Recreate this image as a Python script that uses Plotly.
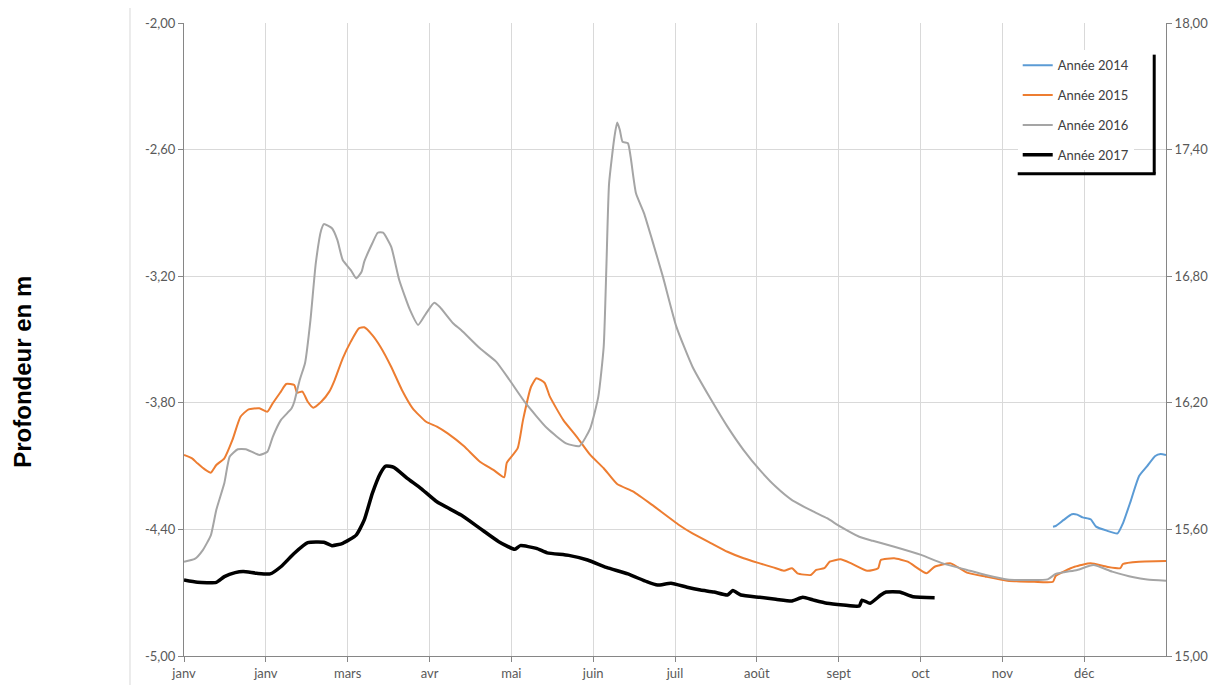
import plotly.graph_objects as go

# ---- data (x = day of year, y = depth in m) ----
month_labels = ["janv", "janv", "mars", "avr", "mai", "juin", "juil", "août", "sept", "oct", "nov", "déc"]
left_ticks = [-5.0, -4.4, -3.8, -3.2, -2.6, -2.0]
right_ticks = [15.0, 15.6, 16.2, 16.8, 17.4, 18.0]

days_2014 = [323, 324, 327, 330, 332, 334, 337, 339, 343, 347, 349, 352, 355, 358, 361, 363, 365]
vals_2014 = [-4.387, -4.384, -4.355, -4.328, -4.330, -4.343, -4.352, -4.387, -4.406, -4.419,
             -4.371, -4.261, -4.147, -4.100, -4.052, -4.043, -4.047]

days_2015 = [0, 3, 5, 8, 10, 12, 15, 18, 21, 24, 28, 31, 33, 36, 38, 41, 42, 44, 46, 48, 51, 54, 56,
             59, 62, 65, 67, 70, 73, 77, 81, 85, 90, 94, 98, 104, 110, 115, 119, 120, 124, 126, 129,
             131, 134, 136, 141, 146, 151, 156, 161, 167, 174, 184, 189, 196, 202, 208, 214, 219,
             223, 226, 228, 233, 235, 238, 240, 244, 248, 254, 258, 259, 264, 269, 276, 279, 285,
             291, 298, 306, 316, 323, 324, 331, 337, 343, 348, 349, 355, 365]
vals_2015 = [-4.047, -4.063, -4.087, -4.118, -4.131, -4.095, -4.063, -3.976, -3.866, -3.831, -3.826,
             -3.842, -3.802, -3.747, -3.711, -3.716, -3.752, -3.747, -3.795, -3.823, -3.795, -3.747,
             -3.692, -3.589, -3.510, -3.447, -3.442, -3.479, -3.534, -3.629, -3.739, -3.826, -3.890,
             -3.913, -3.945, -4.005, -4.079, -4.118, -4.153, -4.084, -4.016, -3.882, -3.724, -3.684,
             -3.705, -3.771, -3.882, -3.961, -4.047, -4.110, -4.185, -4.221, -4.284, -4.379, -4.419,
             -4.466, -4.506, -4.537, -4.561, -4.580, -4.596, -4.584, -4.608, -4.616, -4.592, -4.584,
             -4.553, -4.542, -4.561, -4.596, -4.584, -4.545, -4.537, -4.553, -4.608, -4.577, -4.561,
             -4.605, -4.624, -4.643, -4.648, -4.648, -4.621, -4.577, -4.561, -4.577, -4.584, -4.564,
             -4.553, -4.550]

days_2016 = [0, 4, 7, 10, 12, 15, 17, 20, 23, 28, 31, 33, 36, 40, 41, 43, 45, 47, 49, 51, 52, 55, 57,
             59, 62, 64, 66, 67, 70, 72, 74, 77, 80, 84, 87, 90, 93, 95, 100, 103, 110, 116, 121, 127,
             135, 142, 147, 151, 154, 156, 157, 158, 160, 161, 162, 163, 165, 166, 168, 171, 174, 178,
             183, 189, 196, 202, 208, 214, 220, 226, 234, 239, 244, 251, 256, 264, 274, 282, 291, 298,
             306, 321, 324, 332, 338, 345, 353, 358, 365]
vals_2016 = [-4.553, -4.540, -4.498, -4.427, -4.308, -4.180, -4.055, -4.020, -4.020, -4.047, -4.032,
             -3.961, -3.882, -3.826, -3.795, -3.692, -3.611, -3.408, -3.137, -2.981, -2.953, -2.973,
             -3.028, -3.123, -3.171, -3.210, -3.179, -3.131, -3.044, -2.994, -2.994, -3.060, -3.218,
             -3.360, -3.431, -3.376, -3.326, -3.345, -3.423, -3.455, -3.542, -3.605, -3.692, -3.802,
             -3.921, -3.992, -4.005, -3.921, -3.771, -3.534, -3.155, -2.760, -2.539, -2.472, -2.507,
             -2.563, -2.570, -2.634, -2.807, -2.902, -3.028, -3.202, -3.439, -3.629, -3.787, -3.913,
             -4.024, -4.118, -4.198, -4.261, -4.316, -4.347, -4.387, -4.435, -4.454, -4.482, -4.521,
             -4.561, -4.592, -4.616, -4.637, -4.637, -4.611, -4.592, -4.569, -4.600, -4.627, -4.637,
             -4.643]

days_2017 = [0, 5, 12, 15, 19, 22, 27, 32, 36, 41, 46, 52, 55, 59, 64, 67, 70, 73, 75, 78, 83, 88,
             94, 103, 110, 117, 123, 125, 131, 135, 143, 150, 157, 165, 172, 176, 181, 187, 192, 197,
             202, 204, 207, 214, 220, 226, 230, 234, 239, 245, 251, 252, 255, 259, 261, 266, 271, 279]
vals_2017 = [-4.640, -4.651, -4.651, -4.624, -4.605, -4.600, -4.608, -4.611, -4.577, -4.513, -4.463,
             -4.461, -4.477, -4.466, -4.427, -4.355, -4.229, -4.134, -4.100, -4.106, -4.158, -4.205,
             -4.269, -4.332, -4.395, -4.458, -4.494, -4.477, -4.490, -4.511, -4.523, -4.545, -4.580,
             -4.611, -4.648, -4.664, -4.655, -4.674, -4.687, -4.697, -4.711, -4.690, -4.711, -4.722,
             -4.731, -4.739, -4.722, -4.735, -4.750, -4.758, -4.763, -4.735, -4.750, -4.711, -4.697,
             -4.697, -4.719, -4.724]

series = [
    ("Année 2014", days_2014, vals_2014, "#5b9bd5", 2),
    ("Année 2015", days_2015, vals_2015, "#ed7d31", 2),
    ("Année 2016", days_2016, vals_2016, "#a5a5a5", 2),
    ("Année 2017", days_2017, vals_2017, "#000000", 3.5),
]

def fmt(v):
    return f"{v:.2f}".replace(".", ",")

fig = go.Figure()
for name, xs, ys, color, w in series:
    fig.add_trace(go.Scatter(x=xs, y=ys, mode="lines", name=name, legendgroup=name,
                             line=dict(color=color, width=w, shape="spline", smoothing=0.5)))
# dummy trace to activate the secondary axis
fig.add_trace(go.Scatter(x=[None], y=[None], yaxis="y2", showlegend=False, hoverinfo="skip"))

tick_font = dict(family="Lato, Carlito, sans-serif", size=13, color="#595959")
month_pos = [i * 365 / 12 for i in range(12)]

fig.update_layout(
    width=1214, height=677,
    margin=dict(l=176, r=56, t=15, b=29, autoexpand=False),
    plot_bgcolor="white", paper_bgcolor="white",
    showlegend=True,
    legend=dict(x=0.849, y=0.957, xanchor="left", yanchor="top",
                bgcolor="white", borderwidth=0, tracegroupgap=10,
                font=dict(family="Lato, Carlito, sans-serif", size=13, color="#404040")),
    xaxis=dict(range=[0, 365], tickvals=month_pos, ticktext=month_labels,
               showgrid=True, gridcolor="#d9d9d9", gridwidth=1,
               showline=True, linecolor="#868686", linewidth=1,
               ticks="outside", ticklen=5, tickcolor="#868686", automargin=False,
               tickfont=tick_font, zeroline=False),
    yaxis=dict(range=[-5.0, -2.0], tickvals=left_ticks, ticktext=[fmt(v) for v in left_ticks],
               showgrid=True, gridcolor="#d9d9d9", gridwidth=1,
               showline=True, linecolor="#868686", linewidth=1,
               ticks="outside", ticklen=5, tickcolor="#868686", automargin=False,
               tickfont=tick_font, zeroline=False),
    yaxis2=dict(range=[15.0, 18.0], overlaying="y", side="right",
                tickvals=right_ticks, ticktext=[fmt(v) for v in right_ticks],
                showgrid=False, showline=True, linecolor="#868686", linewidth=1,
                ticks="outside", ticklen=5, tickcolor="#868686", automargin=False,
                tickfont=tick_font, zeroline=False),
    annotations=[dict(text="<b>Profondeur en m</b>", xref="paper", yref="paper",
                      x=-0.164, y=0.449, xanchor="center", yanchor="middle",
                      textangle=-90, showarrow=False,
                      font=dict(family="Liberation Sans, Arial, sans-serif", size=24, color="#000000"))],
    shapes=[
        # chart area border
        dict(type="rect", xref="paper", yref="paper", x0=-0.055, x1=1.055, y0=-0.05, y1=1.027,
             line=dict(color="#d9d9d9", width=1), layer="below"),
        # legend shadow (right and bottom)
        dict(type="line", xref="paper", yref="paper", x0=0.988, x1=0.988, y0=0.762, y1=0.95,
             line=dict(color="#000000", width=3)),
        dict(type="line", xref="paper", yref="paper", x0=0.849, x1=0.9895, y0=0.762, y1=0.762,
             line=dict(color="#000000", width=3)),
    ],
)

fig.write_html("out.html")
